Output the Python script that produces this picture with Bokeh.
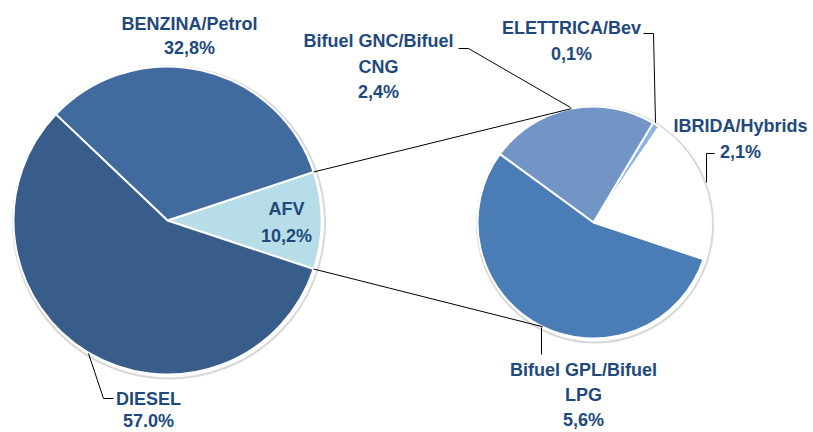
import math
from bokeh.plotting import figure
from bokeh.models import Range1d, ColumnDataSource
from bokeh.core.properties import value
from bokeh.embed import file_html
from bokeh.resources import INLINE

# ---------------- data ----------------
main_labels = ["AFV", "BENZINA/Petrol", "DIESEL"]
main_values = [10.2, 32.8, 57.0]
main_pct_text = ["10,2%", "32,8%", "57.0%"]
main_colors = ["#B7DDE8", "#416B9F", "#385D8A"]

afv_labels = ["IBRIDA/Hybrids", "ELETTRICA/Bev", "Bifuel GNC/Bifuel CNG", "Bifuel GPL/Bifuel LPG"]
afv_values = [2.1, 0.1, 2.4, 5.6]
afv_pct_text = ["2,1%", "0,1%", "2,4%", "5,6%"]
afv_colors = ["#FFFFFF", "#8EB4E3", "#7395C6", "#4A7CB6"]

# ---------------- layout (page pixel coords, y down) ----------------
W, H = 813, 432
def Y(y):
    return H - y

main_cx, main_cy, main_r = 167, Y(220), 154
sub_cx, sub_cy, sub_r = 593, Y(222), 116
sub_start_deg = -18.5
top_join_deg, bot_join_deg = 101, -116

TEXT_COLOR = "#1F497D"
FONT = "Liberation Sans"
FS = "18px"

p = figure(width=W, height=H, output_backend="svg", toolbar_location=None,
           x_range=Range1d(0, W), y_range=Range1d(0, H), min_border=0)
p.axis.visible = False
p.xgrid.visible = False
p.ygrid.visible = False
p.outline_line_color = None
p.background_fill_color = "white"
p.border_fill_color = "white"

def wedges(values, start_deg):
    tot = sum(values)
    starts, ends = [], []
    a = math.radians(start_deg)
    for v in values:
        e = a + 2 * math.pi * v / tot
        starts.append(a)
        ends.append(e)
        a = e
    return starts, ends

# main pie: AFV centered on the horizontal toward the sub pie
afv_half = 360 * main_values[0] / sum(main_values) / 2
m_starts, m_ends = wedges(main_values, -afv_half)
s_starts, s_ends = wedges(afv_values, sub_start_deg)

# shadows / rims
p.circle(x=[main_cx + 1.5], y=[main_cy - 2], radius=main_r + 2, fill_color=None,
         line_color="#D4D4D4", line_width=2, line_alpha=0.9)
p.circle(x=[sub_cx + 1.5], y=[sub_cy - 2], radius=sub_r + 2, fill_color=None,
         line_color="#D4D4D4", line_width=2, line_alpha=0.9)

msrc = ColumnDataSource(dict(x=[main_cx] * 3, y=[main_cy] * 3, s=m_starts, e=m_ends,
                             c=main_colors, lab=main_labels))
p.wedge(x="x", y="y", radius=main_r, start_angle="s", end_angle="e", fill_color="c",
        line_color="white", line_width=2, source=msrc)

ssrc = ColumnDataSource(dict(x=[sub_cx] * 4, y=[sub_cy] * 4, s=s_starts, e=s_ends,
                             c=afv_colors, lab=afv_labels))
p.wedge(x="x", y="y", radius=sub_r, start_angle="s", end_angle="e", fill_color="c",
        line_color="white", line_width=2, source=ssrc)

# connector lines between pies
def pt(cx, cy, r, ang):
    return cx + r * math.cos(ang), cy + r * math.sin(ang)

a_top, a_bot = m_ends[0], m_starts[0]
x1, y1 = pt(main_cx, main_cy, main_r, a_top)
x2, y2 = pt(sub_cx, sub_cy, sub_r, math.radians(top_join_deg))
x3, y3 = pt(main_cx, main_cy, main_r, a_bot)
x4, y4 = pt(sub_cx, sub_cy, sub_r, math.radians(bot_join_deg))
p.segment(x0=[x1, x3], y0=[y1, y3], x1=[x2, x4], y1=[y2, y4], line_color="black", line_width=1)

# leader lines
leaders = [
    ([458, 468, 570], [48, 48, 107]),
    ([643, 653, 655], [33, 33, 122]),
    ([714, 706, 706], [153, 153, 182]),
    ([541, 541], [327, 354]),
    ([88, 103, 113], [353, 398, 398]),
]
for xs, ys in leaders:
    p.line(x=xs, y=[Y(v) for v in ys], line_color="black", line_width=1)

# labels (each line drawn separately)
def split_label(lab):
    if lab == "Bifuel GNC/Bifuel CNG":
        return ["Bifuel GNC/Bifuel", "CNG"]
    if lab == "Bifuel GPL/Bifuel LPG":
        return ["Bifuel GPL/Bifuel", "LPG"]
    return [lab]

label_pos = {
    "AFV": (286, [208, 235]),
    "BENZINA/Petrol": (189, [23, 47.5]),
    "DIESEL": (148, [398, 420]),
    "IBRIDA/Hybrids": (740, [125.5, 151]),
    "ELETTRICA/Bev": (571, [27.5, 53.5]),
    "Bifuel GNC/Bifuel CNG": (378, [40, 66, 91.5]),
    "Bifuel GPL/Bifuel LPG": (583, [369, 394, 419]),
}

tx, ty, tt = [], [], []
for lab, pct in list(zip(main_labels, main_pct_text)) + list(zip(afv_labels, afv_pct_text)):
    cx, ys = label_pos[lab]
    lines = split_label(lab) + [pct]
    for line, yy in zip(lines, ys):
        tx.append(cx)
        ty.append(Y(yy))
        tt.append(line)

p.text(x=tx, y=ty, text=tt, text_align="center", text_baseline="middle",
       text_font=value(FONT), text_font_size=FS, text_font_style="bold", text_color=TEXT_COLOR)

open("out.html", "w").write(file_html(p, INLINE))
